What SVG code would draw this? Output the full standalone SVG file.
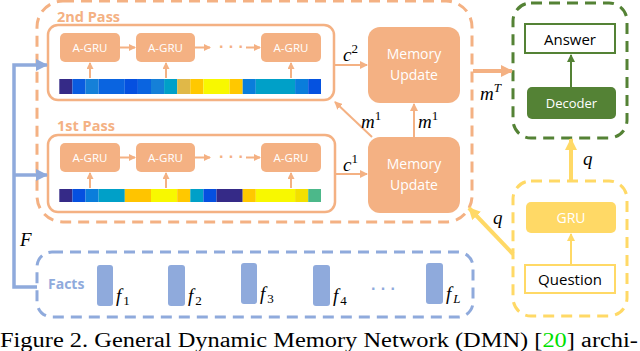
<svg xmlns="http://www.w3.org/2000/svg" width="640" height="351" viewBox="0 0 640 351">
<defs>
<style>
.og{fill:#f4b183}
.ogs{fill:none;stroke:#f4b183;stroke-width:2.5}
.dash{fill:none;stroke-width:3;stroke-dasharray:11 7}
.gru{font-family:"Open Sans","DejaVu Sans",sans-serif;font-size:11.5px;fill:#fff;text-anchor:middle}
.mu{font-family:"Open Sans","DejaVu Sans",sans-serif;font-size:14px;fill:#fff;text-anchor:middle}
.lbl{font-family:"Open Sans","DejaVu Sans",sans-serif;font-size:15px;fill:#000;text-anchor:middle}
.pass{font-family:"Open Sans","DejaVu Sans",sans-serif;font-size:14.5px;font-weight:bold;fill:#f4b183}
.math{font-family:"Liberation Serif","DejaVu Serif",serif;font-style:italic;font-size:19px;fill:#000}
.sub{font-style:normal;font-size:13px}
.dots{font-family:"Liberation Sans",sans-serif;font-size:16px;font-weight:bold}
.oarr{stroke:#f4b183;stroke-width:2;fill:none}
</style>
<marker id="ah" markerWidth="8" markerHeight="8" refX="7" refY="4" orient="auto" markerUnits="userSpaceOnUse"><path d="M0,0 L8,4 L0,8 z" fill="#f4b183"/></marker>
<marker id="ahs" markerWidth="7" markerHeight="7" refX="6" refY="3.5" orient="auto" markerUnits="userSpaceOnUse"><path d="M0,0 L7,3.5 L0,7 z" fill="#f4b183"/></marker>
<marker id="ahb" markerWidth="12" markerHeight="12" refX="11" refY="6" orient="auto" markerUnits="userSpaceOnUse"><path d="M0,0 L12,6 L0,12 z" fill="#f4b183"/></marker>
<marker id="ahy" markerWidth="12" markerHeight="12" refX="11" refY="6" orient="auto" markerUnits="userSpaceOnUse"><path d="M0,0 L12,6 L0,12 z" fill="#ffd966"/></marker>
<marker id="ahys" markerWidth="8" markerHeight="8" refX="7" refY="4" orient="auto" markerUnits="userSpaceOnUse"><path d="M0,0 L8,4 L0,8 z" fill="#ffd966"/></marker>
<marker id="ahg" markerWidth="8" markerHeight="8" refX="7" refY="4" orient="auto" markerUnits="userSpaceOnUse"><path d="M0,0 L8,4 L0,8 z" fill="#548235"/></marker>
<marker id="ahbl" markerWidth="12" markerHeight="12" refX="11" refY="6" orient="auto" markerUnits="userSpaceOnUse"><path d="M0,0 L12,6 L0,12 z" fill="#8faadc"/></marker>
</defs>

<g id="memory-module">
<rect x="37" y="1" width="435" height="221" rx="26" class="dash" stroke="#f4b183"/>
</g>

<g id="pass2">
<text x="57" y="22" class="pass">2nd Pass</text>
<rect x="48" y="25" width="286" height="75" rx="10" class="ogs"/>
<rect x="60" y="33" width="60" height="29" rx="5" class="og"/><text x="90" y="52" class="gru">A-GRU</text>
<rect x="136" y="33" width="59" height="29" rx="5" class="og"/><text x="165.5" y="52" class="gru">A-GRU</text>
<rect x="261" y="33" width="60" height="29" rx="5" class="og"/><text x="291" y="52" class="gru">A-GRU</text>
<line x1="120" y1="47.5" x2="135" y2="47.5" class="oarr" marker-end="url(#ahs)"/>
<line x1="195" y1="47.5" x2="210" y2="47.5" class="oarr" marker-end="url(#ahs)"/>
<text x="219" y="52" class="dots" fill="#f4b183">· · ·</text>
<line x1="246" y1="47.5" x2="260" y2="47.5" class="oarr" marker-end="url(#ahs)"/>
<line x1="90" y1="78" x2="90" y2="63" class="oarr" marker-end="url(#ahs)"/>
<line x1="166" y1="78" x2="166" y2="63" class="oarr" marker-end="url(#ahs)"/>
<line x1="291" y1="78" x2="291" y2="63" class="oarr" marker-end="url(#ahs)"/>
<g id="bar2">
<rect x="59.3" y="79" width="13.1" height="15" fill="#352a87"/>
<rect x="72.4" y="79" width="13.1" height="15" fill="#0a5ce0"/>
<rect x="85.5" y="79" width="13.1" height="15" fill="#1580d8"/>
<rect x="98.6" y="79" width="26.2" height="15" fill="#0a64e0"/>
<rect x="124.8" y="79" width="13.1" height="15" fill="#0550e0"/>
<rect x="137.9" y="79" width="13.1" height="15" fill="#0a64e0"/>
<rect x="151" y="79" width="13.1" height="15" fill="#1580d8"/>
<rect x="164.1" y="79" width="13.1" height="15" fill="#00a0c8"/>
<rect x="177.2" y="79" width="13.1" height="15" fill="#e0b848"/>
<rect x="190.3" y="79" width="13.1" height="15" fill="#ffc800"/>
<rect x="203.4" y="79" width="26.2" height="15" fill="#f8f800"/>
<rect x="229.6" y="79" width="13.1" height="15" fill="#ffc800"/>
<rect x="242.7" y="79" width="13.1" height="15" fill="#0a7ddb"/>
<rect x="255.8" y="79" width="39.3" height="15" fill="#00a0c8"/>
<rect x="295.1" y="79" width="13.1" height="15" fill="#0a7ddb"/>
<rect x="308.2" y="79" width="12.8" height="15" fill="#0552e0"/>
</g>
</g>

<g id="pass1">
<text x="57" y="131" class="pass">1st Pass</text>
<rect x="48" y="135" width="287" height="77" rx="10" class="ogs"/>
<rect x="60" y="143" width="60" height="29" rx="5" class="og"/><text x="90" y="162" class="gru">A-GRU</text>
<rect x="136" y="143" width="59" height="29" rx="5" class="og"/><text x="165.5" y="162" class="gru">A-GRU</text>
<rect x="261" y="143" width="60" height="29" rx="5" class="og"/><text x="291" y="162" class="gru">A-GRU</text>
<line x1="120" y1="157.5" x2="135" y2="157.5" class="oarr" marker-end="url(#ahs)"/>
<line x1="195" y1="157.5" x2="210" y2="157.5" class="oarr" marker-end="url(#ahs)"/>
<text x="219" y="162" class="dots" fill="#f4b183">· · ·</text>
<line x1="246" y1="157.5" x2="260" y2="157.5" class="oarr" marker-end="url(#ahs)"/>
<line x1="90" y1="188" x2="90" y2="173" class="oarr" marker-end="url(#ahs)"/>
<line x1="166" y1="188" x2="166" y2="173" class="oarr" marker-end="url(#ahs)"/>
<line x1="291" y1="188" x2="291" y2="173" class="oarr" marker-end="url(#ahs)"/>
<g id="bar1">
<rect x="59.3" y="189" width="13.1" height="13" fill="#352a87"/>
<rect x="72.4" y="189" width="13.1" height="13" fill="#0550e0"/>
<rect x="85.5" y="189" width="13.1" height="13" fill="#0a7ddb"/>
<rect x="98.6" y="189" width="26.2" height="13" fill="#00a0c8"/>
<rect x="124.8" y="189" width="26.2" height="13" fill="#ffc400"/>
<rect x="151" y="189" width="26.2" height="13" fill="#f8f800"/>
<rect x="177.2" y="189" width="13.1" height="13" fill="#ffc800"/>
<rect x="190.3" y="189" width="13.1" height="13" fill="#00a0c8"/>
<rect x="203.4" y="189" width="13.1" height="13" fill="#0550e0"/>
<rect x="216.5" y="189" width="26.2" height="13" fill="#352a87"/>
<rect x="242.7" y="189" width="13.1" height="13" fill="#ffc800"/>
<rect x="255.8" y="189" width="39.3" height="13" fill="#f8f800"/>
<rect x="295.1" y="189" width="13.1" height="13" fill="#f2e000"/>
<rect x="308.2" y="189" width="12.8" height="13" fill="#4cb88a"/>
</g>
</g>

<g id="mu2">
<rect x="368" y="27" width="92" height="76" rx="12" class="og"/>
<text x="414" y="59" class="mu">Memory</text>
<text x="414" y="80" class="mu">Update</text>
</g>
<g id="mu1">
<rect x="368" y="137" width="92" height="76" rx="12" class="og"/>
<text x="414" y="169" class="mu">Memory</text>
<text x="414" y="190" class="mu">Update</text>
</g>

<g id="answer-module">
<rect x="513" y="3" width="114" height="135" rx="18" class="dash" stroke="#548235"/>
</g>
<g id="answer">
<rect x="525" y="24" width="90" height="29" fill="#fff" stroke="#548235" stroke-width="2"/>
<text x="570" y="45" class="lbl">Answer</text>
</g>
<g id="decoder">
<rect x="527" y="87" width="89" height="32" rx="5" fill="#548235"/>
<text x="571.5" y="108" class="mu" style="font-size:13px">Decoder</text>
</g>

<g id="question-module">
<rect x="513" y="181" width="114" height="135" rx="18" class="dash" stroke="#ffd966"/>
</g>
<g id="gru">
<rect x="526" y="202" width="90" height="31" rx="5" fill="#ffd966"/>
<text x="571" y="223" class="mu">GRU</text>
</g>
<g id="question">
<rect x="525" y="265" width="90" height="28" fill="#fff" stroke="#ffd966" stroke-width="2"/>
<text x="570" y="285" class="lbl">Question</text>
</g>

<g id="facts">
<rect x="37" y="252" width="436" height="65" rx="15" class="dash" stroke="#8faadc"/>
<text x="48" y="289" font-family="'Open Sans','DejaVu Sans',sans-serif" font-size="14" font-weight="bold" fill="#8faadc">Facts</text>
<rect x="97" y="265" width="16" height="41" rx="3" fill="#8faadc"/>
<rect x="168" y="265" width="17" height="41" rx="3" fill="#8faadc"/>
<rect x="241" y="263" width="16" height="41" rx="3" fill="#8faadc"/>
<rect x="313" y="265" width="17" height="41" rx="3" fill="#8faadc"/>
<rect x="426" y="263" width="17" height="41" rx="3" fill="#8faadc"/>
<text x="371" y="294" class="dots" fill="#8faadc">· · ·</text>
<text x="116" y="302" class="math">f<tspan class="sub" dx="2" dy="3">1</tspan></text>
<text x="188" y="302" class="math">f<tspan class="sub" dx="2" dy="3">2</tspan></text>
<text x="260" y="300" class="math">f<tspan class="sub" dx="2" dy="3">3</tspan></text>
<text x="333" y="302" class="math">f<tspan class="sub" dx="2" dy="3">4</tspan></text>
<text x="446" y="300" class="math">f<tspan class="sub" dx="2" dy="3" style="font-style:italic">L</tspan></text>
</g>

<g id="connectors">
<line x1="334" y1="65" x2="367" y2="65" class="oarr" marker-end="url(#ah)"/>
<line x1="335" y1="174" x2="367" y2="174" class="oarr" marker-end="url(#ah)"/>
<line x1="372" y1="137" x2="335" y2="102" class="oarr" marker-end="url(#ah)"/>
<line x1="414" y1="137" x2="414" y2="104" class="oarr" marker-end="url(#ah)"/>
<line x1="473" y1="71" x2="512" y2="71" stroke="#f4b183" stroke-width="4" marker-end="url(#ahb)"/>
<line x1="571" y1="87" x2="571" y2="55" stroke="#548235" stroke-width="2" marker-end="url(#ahg)"/>
<line x1="571" y1="265" x2="571" y2="234" stroke="#ffd966" stroke-width="2" marker-end="url(#ahys)"/>
<line x1="571" y1="181" x2="571" y2="139" stroke="#ffd966" stroke-width="4" marker-end="url(#ahy)"/>
<line x1="513" y1="254" x2="469" y2="208" stroke="#ffd966" stroke-width="4" marker-end="url(#ahy)"/>
<polyline points="37,287 14,287 14,65 47,65" fill="none" stroke="#8faadc" stroke-width="3.5" marker-end="url(#ahbl)"/>
<line x1="14" y1="175" x2="47" y2="175" stroke="#8faadc" stroke-width="3.5" marker-end="url(#ahbl)"/>
<text x="343" y="61" class="math">c<tspan class="sub" dy="-8">2</tspan></text>
<text x="343" y="171" class="math">c<tspan class="sub" dy="-8">1</tspan></text>
<text x="361" y="128" class="math">m<tspan class="sub" dy="-8">1</tspan></text>
<text x="418" y="128" class="math">m<tspan class="sub" dy="-8">1</tspan></text>
<text x="480" y="100" class="math">m<tspan class="sub" dy="-8" style="font-style:italic">T</tspan></text>
<text x="583" y="165" class="math">q</text>
<text x="493" y="224" class="math">q</text>
<text x="20" y="246" class="math">F</text>
</g>

<text x="0" y="347" font-family="'Liberation Serif','Times New Roman',serif" font-size="20" fill="#000" textLength="638" lengthAdjust="spacingAndGlyphs">Figure 2. General Dynamic Memory Network (DMN) [<tspan fill="#00e000">20</tspan>] archi-</text>
</svg>
